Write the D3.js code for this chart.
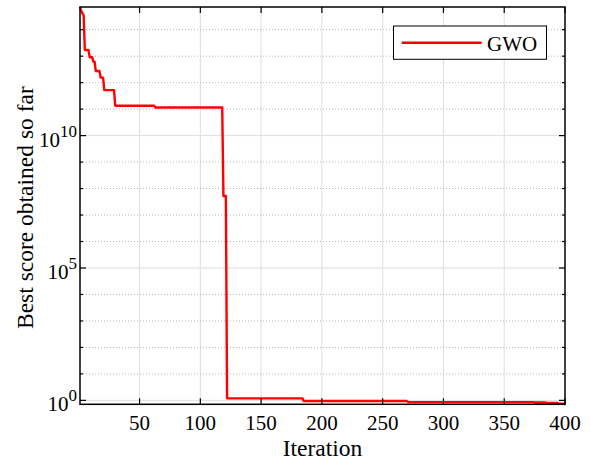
<!DOCTYPE html>
<html>
<head>
<meta charset="utf-8">
<script src="https://cdn.jsdelivr.net/npm/d3@7"></script>
<style>
  body { margin: 0; background: #fff; }
  svg { display: block; font-family: "Liberation Serif", "Times New Roman", serif; }
</style>
</head>
<body>
<svg id="chart"></svg>
<script>
// change points of the best score (iteration where it changes, new value)
const iterations = [1, 2, 3, 4, 5, 9, 12, 14, 18, 21, 30, 63, 119, 122, 185, 271, 363, 375, 385, 395, 400];
const scores = [7.2e14, 5.2e14, 4.2e14, 3.5e14, 1.7e13, 9.1e12, 6.2e12, 2.75e12, 1.55e12, 5.2e11,
                1.35e11, 1.15e11, 5.2e7, 1.19, 0.94, 0.86, 0.86, 0.83, 0.79, 0.74, 0.71];
const maxIter = 400;
const xTicks = [50, 100, 150, 200, 250, 300, 350, 400];
const yMajor = [0, 5, 10];
const yMinor = [1, 2, 3, 4, 6, 7, 8, 9, 11, 12, 13, 14];
const seriesName = "GWO";

// best-so-far holds its value until the next change
const curve = [];
for (let i = 0; i < iterations.length; i++) {
    const end = i + 1 < iterations.length ? iterations[i + 1] - 1 : maxIter;
    for (let t = iterations[i]; t <= end; t++) curve.push({ it: t, v: scores[i] });
}

const width = 591, height = 464;
const area = { left: 80, right: 565, top: 7, bottom: 404.3 };

const svg = d3.select("#chart").attr("width", width).attr("height", height);

const x = d3.scaleLinear().domain([1, maxIter]).range([area.left, area.right]);
const y = d3.scaleLog().domain([d3.min(scores), d3.max(scores)]).range([area.bottom, area.top]);

// grid
const grid = svg.append("g");
grid.selectAll(".gx").data(xTicks.filter(d => d < maxIter)).enter().append("line")
    .attr("x1", d => x(d)).attr("x2", d => x(d))
    .attr("y1", area.top).attr("y2", area.bottom)
    .attr("stroke", "#dedede").attr("stroke-width", 1);
grid.selectAll(".gy").data(yMajor).enter().append("line")
    .attr("x1", area.left).attr("x2", area.right)
    .attr("y1", d => y(Math.pow(10, d))).attr("y2", d => y(Math.pow(10, d)))
    .attr("stroke", "#dedede").attr("stroke-width", 1);
grid.selectAll(".gm").data(yMinor).enter().append("line")
    .attr("x1", area.left).attr("x2", area.right)
    .attr("y1", d => y(Math.pow(10, d))).attr("y2", d => y(Math.pow(10, d)))
    .attr("stroke", "#b8b8b8").attr("stroke-width", 1).attr("stroke-dasharray", "1,2");

// curve
const line = d3.line().x(d => x(d.it)).y(d => y(d.v));
svg.append("path").datum(curve)
    .attr("fill", "none").attr("stroke", "#ff0000").attr("stroke-width", 2.4)
    .attr("stroke-linejoin", "round")
    .attr("d", line);

// box and ticks
const axes = svg.append("g").attr("stroke", "#000");
axes.append("rect").attr("x", area.left).attr("y", area.top)
    .attr("width", area.right - area.left).attr("height", area.bottom - area.top)
    .attr("fill", "none").attr("stroke-width", 1.5);
xTicks.forEach(t => {
    axes.append("line").attr("x1", x(t)).attr("x2", x(t)).attr("y1", area.bottom).attr("y2", area.bottom - 6).attr("stroke-width", 1.2);
    axes.append("line").attr("x1", x(t)).attr("x2", x(t)).attr("y1", area.top).attr("y2", area.top + 6).attr("stroke-width", 1.2);
});
yMajor.concat(yMinor).forEach(e => {
    const len = yMajor.includes(e) ? 6 : 3;
    const yy = y(Math.pow(10, e));
    axes.append("line").attr("x1", area.left).attr("x2", area.left + len).attr("y1", yy).attr("y2", yy).attr("stroke-width", 1.2);
    axes.append("line").attr("x1", area.right).attr("x2", area.right - len).attr("y1", yy).attr("y2", yy).attr("stroke-width", 1.2);
});

// tick labels
svg.selectAll(".xl").data(xTicks).enter().append("text")
    .attr("x", d => x(d)).attr("y", 430)
    .attr("text-anchor", "middle").attr("font-size", 21)
    .text(d => d);

yMajor.forEach(e => {
    const t = svg.append("text")
        .attr("x", 77).attr("y", y(Math.pow(10, e)) + 11)
        .attr("text-anchor", "end").attr("font-size", 21);
    t.append("tspan").text("10");
    t.append("tspan").attr("dy", -10).attr("font-size", 17).text(e);
});

// axis labels
svg.append("text").attr("x", (area.left + area.right) / 2).attr("y", 456)
    .attr("text-anchor", "middle").attr("font-size", 23.5).text("Iteration");
svg.append("text")
    .attr("transform", `translate(33, ${(area.top + area.bottom) / 2 + 2}) rotate(-90)`)
    .attr("text-anchor", "middle").attr("font-size", 23.5).text("Best score obtained so far");

// legend
const lg = svg.append("g");
lg.append("rect").attr("x", 393.5).attr("y", 26).attr("width", 153).attr("height", 33.3)
    .attr("fill", "#fff").attr("stroke", "#000").attr("stroke-width", 1);
lg.append("line").attr("x1", 401.7).attr("x2", 481.7).attr("y1", 42.7).attr("y2", 42.7)
    .attr("stroke", "#ff0000").attr("stroke-width", 2.4);
lg.append("text").attr("x", 487).attr("y", 50.7).attr("font-size", 21).text(seriesName);
</script>
</body>
</html>
